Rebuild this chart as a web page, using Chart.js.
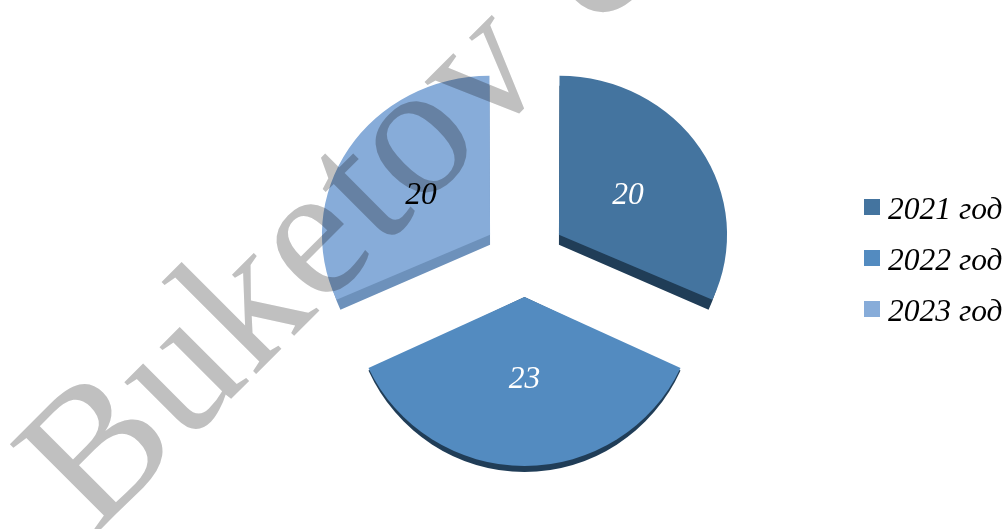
<!DOCTYPE html>
<html>
<head>
<meta charset="utf-8">
<style>
  html, body { margin: 0; padding: 0; background: #fff; overflow: hidden; }
  canvas { display: block; }
</style>
<script src="https://cdn.jsdelivr.net/npm/chart.js@4"></script>
</head>
<body>
<canvas id="chart" width="1006" height="529"></canvas>
<script>
// chart data
const categories = ['2021 год', '2022 год', '2023 год'];
const seriesValues = [20, 23, 20];
const watermarkText = 'Buketov University';

// styles
const sliceColors = ['#44749f', '#538bc0', '#87acd9'];
const sideColors = ['#203d57', '#203d57', '#6d91bb'];
const labelColors = ['#ffffff', '#ffffff', '#000000'];
const sliceOffsets = [164, 160, 164];
const topScaleX = [1, 0.985, 1];
const topScaleY = [0.946, 0.968, 0.946];
const sideScaleX = [0.975, 0.985, 0.975];
const sideScaleY = [0.946, 1.003, 0.946];
const sideDepths = [10, 0, 10];
const serif = "'Liberation Serif', 'Times New Roman', serif";

// where the point of a slice ends up after its offset
function sliceApex(arc, i) {
    const mid = (arc.startAngle + arc.endAngle) / 2;
    const shift = sliceOffsets[i] / 4;
    return { x: arc.x + Math.cos(mid) * shift, y: arc.y + Math.sin(mid) * shift, mid };
}

// draws one arc element squashed around its own point
function drawArc(ctx, arc, i, scaleX, scaleY, depth, color) {
    const apex = sliceApex(arc, i);
    const opts = arc.options;
    arc.options = { ...opts, backgroundColor: color };
    ctx.save();
    ctx.translate(apex.x, apex.y + depth);
    ctx.scale(scaleX, scaleY);
    ctx.translate(-apex.x, -apex.y);
    arc.draw(ctx);
    ctx.restore();
    arc.options = opts;
}

// fake 3d look: dark side first, then the top of each slice
const tiltPlugin = {
    id: 'tilt',
    beforeDatasetDraw(chart) {
        const ctx = chart.ctx;
        const arcs = chart.getDatasetMeta(0).data;
        arcs.forEach((arc, i) => {
            drawArc(ctx, arc, i, sideScaleX[i], sideScaleY[i], sideDepths[i], sideColors[i]);
        });
        arcs.forEach((arc, i) => {
            drawArc(ctx, arc, i, topScaleX[i], topScaleY[i], 0, sliceColors[i]);
        });
        return false;
    }
};

// values in the middle of each slice
const valueLabelPlugin = {
    id: 'valueLabels',
    afterDatasetsDraw(chart) {
        const ctx = chart.ctx;
        const arcs = chart.getDatasetMeta(0).data;
        ctx.save();
        ctx.font = 'italic 31.5px ' + serif;
        ctx.textAlign = 'center';
        ctx.textBaseline = 'alphabetic';
        arcs.forEach((arc, i) => {
            const apex = sliceApex(arc, i);
            const half = arc.outerRadius / 2;
            const x = apex.x + Math.cos(apex.mid) * half;
            const y = apex.y + Math.sin(apex.mid) * half * topScaleY[i];
            ctx.fillStyle = labelColors[i];
            ctx.fillText(seriesValues[i], x, y + 11);
        });
        ctx.restore();
    }
};

// legend drawn by hand, the built in one has a wider gap after the box
const sideLegendPlugin = {
    id: 'sideLegend',
    afterDraw(chart) {
        const ctx = chart.ctx;
        ctx.save();
        ctx.font = 'italic 31.5px ' + serif;
        ctx.textAlign = 'left';
        ctx.textBaseline = 'alphabetic';
        chart.data.labels.forEach((label, i) => {
            const top = 199 + i * 51;
            ctx.fillStyle = sliceColors[i];
            ctx.fillRect(864, top, 16, 16);
            ctx.fillStyle = '#000000';
            ctx.fillText(label, 888, top + 20);
        });
        ctx.restore();
    }
};

const watermarkPlugin = {
    id: 'watermark',
    afterDraw(chart) {
        const ctx = chart.ctx;
        ctx.save();
        ctx.globalCompositeOperation = 'multiply';
        ctx.translate(94, 536);
        ctx.rotate(-Math.PI / 4);
        ctx.font = '190px ' + serif;
        ctx.letterSpacing = '1px';
        ctx.fillStyle = '#c0c0c0';
        ctx.textBaseline = 'alphabetic';
        ctx.fillText(watermarkText, 0, 0);
        ctx.restore();
    }
};

new Chart(document.getElementById('chart'), {
    type: 'pie',
    data: {
        labels: categories,
        datasets: [{
            data: seriesValues,
            backgroundColor: sliceColors,
            borderWidth: 0,
            offset: sliceOffsets,
            radius: 164.5
        }]
    },
    options: {
        responsive: false,
        animation: false,
        layout: { padding: { left: 43, bottom: 15 } },
        plugins: {
            legend: { display: false },
            tooltip: { enabled: false }
        }
    },
    plugins: [tiltPlugin, valueLabelPlugin, sideLegendPlugin, watermarkPlugin]
});
</script>
</body>
</html>
